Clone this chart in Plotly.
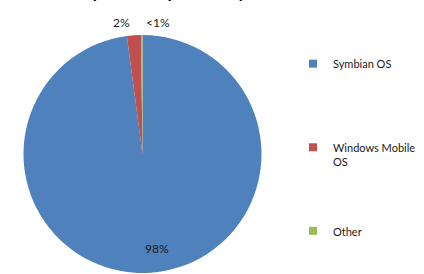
import plotly.graph_objects as go

# ---- data ----
categories = ["Symbian OS", "Windows Mobile OS", "Other"]
legend_names = ["Symbian OS<br> ", "Windows Mobile<br>OS", "Other"]
shares = [97.9, 1.9, 0.2]
share_labels = ["98%", "2%", "<1%"]
label_pos_px = [(157, 249), (121, 22), (158, 22)]   # label anchor points (px)
colors = ["#4F81BD", "#C0504D", "#9BBB59"]
title_text = "Smartphone Shipments by OS"

W, H = 424, 274
font_family = "Lato, 'Open Sans', sans-serif"

fig = go.Figure()

fig.add_trace(go.Pie(
    labels=categories,
    values=shares,
    textinfo="none",
    marker=dict(colors=colors, line=dict(width=0)),
    sort=False,
    direction="clockwise",
    rotation=0,
    showlegend=False,
    domain=dict(x=[(142.5 - 119) / W, (142.5 + 119) / W],
                y=[(120 - 119) / H, (120 + 119) / H]),
    hoverinfo="label+percent",
))

# legend entries (spaced like the original)
for i, (name, col) in enumerate(zip(legend_names, colors)):
    fig.add_trace(go.Scatter(
        x=[None], y=[None], mode="markers", name=name,
        marker=dict(symbol="square", size=8, color=col),
        legendgroup=f"g{i}", showlegend=True,
    ))

annotations = [dict(
    text="<b>" + title_text + "</b>", xref="paper", yref="paper",
    x=160 / W, y=(H - 4) / H, xanchor="center", yanchor="bottom",
    showarrow=False, font=dict(family=font_family, size=17, color="#000000"),
)]
for lab, (px, py) in zip(share_labels, label_pos_px):
    annotations.append(dict(
        text=lab, xref="paper", yref="paper",
        x=px / W, y=(H - py) / H, xanchor="center", yanchor="middle",
        showarrow=False, font=dict(family=font_family, size=12, color="#1a1a1a"),
    ))

fig.update_layout(
    width=W, height=H,
    margin=dict(l=0, r=0, t=0, b=0),
    paper_bgcolor="white", plot_bgcolor="white",
    xaxis=dict(visible=False), yaxis=dict(visible=False),
    font=dict(family=font_family, size=11, color="#1a1a1a"),
    legend=dict(
        x=(313 - 20) / W, xanchor="left",
        y=(H - 50) / H, yanchor="top",
        traceorder="grouped", tracegroupgap=52, valign="top",
        font=dict(family=font_family, size=11, color="#1a1a1a"),
        bgcolor="rgba(0,0,0,0)",
    ),
    annotations=annotations,
)

fig.write_html("out.html", config={"displayModeBar": False},
               post_script="document.body.style.margin='0';document.body.style.padding='0';")
